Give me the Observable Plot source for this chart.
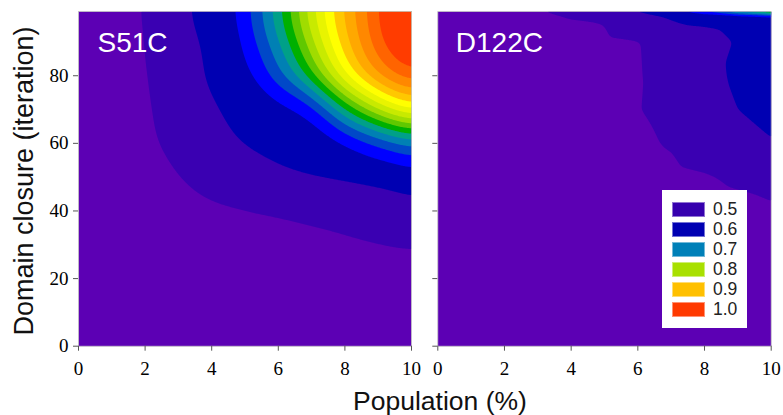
<!DOCTYPE html>
<html><head><meta charset="utf-8">
<script src="https://cdn.jsdelivr.net/npm/d3@7"></script>
<script src="https://cdn.jsdelivr.net/npm/@observablehq/plot@0.6"></script>
<style>
body{margin:0;background:#fff;}
#wrap{position:relative;width:783px;height:415px;overflow:hidden;font-family:"Liberation Sans",Arial,sans-serif;}
.panel{position:absolute;top:0;}
.panel text{font-family:"Liberation Serif","Times New Roman",serif;}
.ylab{position:absolute;left:24px;top:181px;transform:translate(-50%,-50%) rotate(-90deg);white-space:nowrap;font-size:27px;color:#111;}
.xlab{position:absolute;left:440px;top:401px;transform:translate(-50%,-50%);white-space:nowrap;font-size:26.5px;color:#111;}
#legend{position:absolute;left:662px;top:190px;width:85px;height:138px;background:#fff;}
.row{position:absolute;left:10px;height:15px;display:flex;align-items:center;}
.sw{width:31px;height:13px;border:1px solid rgba(255,255,255,0.45);}
.lt{margin-left:8px;font-size:17.5px;color:#222;line-height:15px;}
</style></head><body><div id="wrap"></div>
<script>
// grid columns (Population %)
const xs = [0,1,2,3,4,5,6,7,8,9,10];
// S51C rows (Domain closure iteration)
const ysS51C = [0,10,20,30,40,50,60,70,80,90,99];
const s51c_y0  = [0.42,0.42,0.425,0.425,0.43,0.43,0.435,0.44,0.445,0.45,0.455];
const s51c_y10 = [0.425,0.425,0.43,0.43,0.435,0.44,0.445,0.45,0.455,0.46,0.465];
const s51c_y20 = [0.43,0.43,0.435,0.44,0.445,0.45,0.455,0.46,0.47,0.475,0.48];
const s51c_y30 = [0.43,0.435,0.44,0.445,0.45,0.455,0.465,0.475,0.485,0.492,0.497];
const s51c_y40 = [0.44,0.445,0.46,0.475,0.485,0.495,0.505,0.518,0.53,0.55,0.58];
const s51c_y50 = [0.44,0.45,0.47,0.495,0.54,0.57,0.59,0.605,0.615,0.625,0.635];
const s51c_y60 = [0.44,0.45,0.48,0.53,0.58,0.605,0.62,0.635,0.645,0.67,0.70];
const s51c_y70 = [0.44,0.455,0.485,0.545,0.595,0.62,0.64,0.65,0.75,0.83,0.89];
const s51c_y80 = [0.44,0.46,0.49,0.56,0.615,0.64,0.69,0.77,0.88,0.96,1.0];
const s51c_y90 = [0.44,0.46,0.495,0.575,0.615,0.652,0.72,0.82,0.92,0.995,1.05];
const s51c_y99 = [0.44,0.465,0.50,0.59,0.625,0.66,0.74,0.845,0.933,1.0,1.07];
const s51cRows = [s51c_y0,s51c_y10,s51c_y20,s51c_y30,s51c_y40,s51c_y50,s51c_y60,s51c_y70,s51c_y80,s51c_y90,s51c_y99];

// D122C rows
const ysD122C = [0,10,20,30,40,50,60,70,80,90,98,99];
const d122c_y0  = [0.43,0.43,0.43,0.435,0.435,0.44,0.44,0.445,0.445,0.45,0.45];
const d122c_y10 = [0.435,0.435,0.44,0.44,0.44,0.445,0.445,0.45,0.45,0.455,0.455];
const d122c_y20 = [0.44,0.44,0.44,0.445,0.445,0.45,0.45,0.455,0.455,0.46,0.46];
const d122c_y30 = [0.44,0.445,0.445,0.45,0.45,0.455,0.455,0.46,0.465,0.47,0.475];
const d122c_y40 = [0.445,0.445,0.45,0.45,0.455,0.46,0.465,0.47,0.475,0.483,0.49];
const d122c_y50 = [0.445,0.45,0.45,0.455,0.46,0.468,0.475,0.485,0.495,0.51,0.525];
const d122c_y60 = [0.445,0.45,0.455,0.46,0.465,0.475,0.49,0.505,0.535,0.565,0.595];
const d122c_y70 = [0.45,0.45,0.455,0.46,0.468,0.478,0.497,0.525,0.56,0.6,0.625];
const d122c_y80 = [0.45,0.452,0.456,0.46,0.468,0.478,0.495,0.53,0.57,0.615,0.64];
const d122c_y90 = [0.45,0.455,0.46,0.465,0.475,0.485,0.497,0.54,0.575,0.605,0.63];
const d122c_y98 = [0.45,0.46,0.47,0.485,0.505,0.51,0.575,0.615,0.62,0.63,0.64];
const d122c_y99 = [0.46,0.47,0.48,0.50,0.54,0.58,0.62,0.66,0.72,0.80,0.88];
const d122cRows = [d122c_y0,d122c_y10,d122c_y20,d122c_y30,d122c_y40,d122c_y50,d122c_y60,d122c_y70,d122c_y80,d122c_y90,d122c_y98,d122c_y99];

// contour levels and colours
const thresholds = [0.5,0.6,0.65,0.675,0.7,0.725,0.75,0.775,0.8,0.825,0.85,0.875,0.9,0.925,0.95,0.975,1.0];
const bandColors = ["#5C00B4","#3A00B2","#0000B2","#0000FF","#0048C8","#0080B4","#00A088","#00B000","#60C800",
  "#A0DC00","#C8EA00","#E8F400","#FFFF00","#FFC800","#FFA800","#FF8800","#FF6400","#FF3C00"];

// legend
const legendLabels = ["0.5","0.6","0.7","0.8","0.9","1.0"];
const legendColors = ["#3600AE","#0000B2","#0080B8","#A8E000","#FFC000","#FF3A00"];

const xTicks = [0,2,4,6,8,10];
const yTicks = [0,20,40,60,80];

function panel(rows, ys, label, showY, width, ml, mr, labelDx, blur) {
  const data = ys.flatMap((y, i) => xs.map((x, j) => ({x, y, v: rows[i][j]})));
  return Plot.plot({
    width, height: 380, marginLeft: ml, marginRight: mr, marginTop: 11, marginBottom: 34.3,
    x: {domain: [0, 10]}, y: {domain: [0, 99]},
    color: {type: "threshold", domain: thresholds, range: bandColors},
    style: {fontFamily: "Liberation Serif", fontSize: "19px", color: "#000", background: "transparent"},
    marks: [
      Plot.contour(data, {x: "x", y: "y", fill: "v", thresholds: [0.3, ...thresholds], interpolate: "barycentric", pixelSize: 1, blur, stroke: "none"}),
      Plot.frame({stroke: "#c4c4c4", strokeWidth: 0.8}),
      Plot.axisX({ticks: xTicks, tickSize: 5, tickPadding: 10, label: null, stroke: "#555", fontFamily: "Liberation Serif", fontSize: 19, tickFormat: d => String(d)}),
      Plot.axisY({ticks: yTicks, tickSize: 5, tickPadding: 5, label: null, stroke: "#555", fontFamily: "Liberation Serif", fontSize: 19, tickFormat: showY ? (d => String(d)) : (() => "")}),
      Plot.text([label], {frameAnchor: "top-left", dx: labelDx, dy: 21, text: d => d, fill: "white", fontSize: 28, fontFamily: "Liberation Sans", lineAnchor: "top"})
    ]
  });
}

const wrap = document.getElementById("wrap");
const p1 = panel(s51cRows, ysS51C, "S51C", true, 424, 78, 13, 19, 12);
p1.classList.add("panel"); p1.style.left = "0px";
wrap.appendChild(p1);
const p2 = panel(d122cRows, ysD122C, "D122C", false, 359, 13.3, 12.3, 18, 2);
p2.classList.add("panel"); p2.style.left = "424px";
wrap.appendChild(p2);
p1.querySelectorAll("text").forEach(t => { if (t.textContent === "S51C") t.style.fontFamily = "Liberation Sans"; });
p2.querySelectorAll("text").forEach(t => { if (t.textContent === "D122C") t.style.fontFamily = "Liberation Sans"; });

const yl = document.createElement("div"); yl.className = "ylab"; yl.textContent = "Domain closure (iteration)"; wrap.appendChild(yl);
const xl = document.createElement("div"); xl.className = "xlab"; xl.textContent = "Population (%)"; wrap.appendChild(xl);

const lg = document.createElement("div"); lg.id = "legend";
legendLabels.forEach((t, i) => {
  const r = document.createElement("div"); r.className = "row"; r.style.top = (12 + i * 20) + "px";
  const s = document.createElement("div"); s.className = "sw"; s.style.background = legendColors[i];
  const l = document.createElement("div"); l.className = "lt"; l.textContent = t;
  r.appendChild(s); r.appendChild(l); lg.appendChild(r);
});
wrap.appendChild(lg);
</script></body></html>
